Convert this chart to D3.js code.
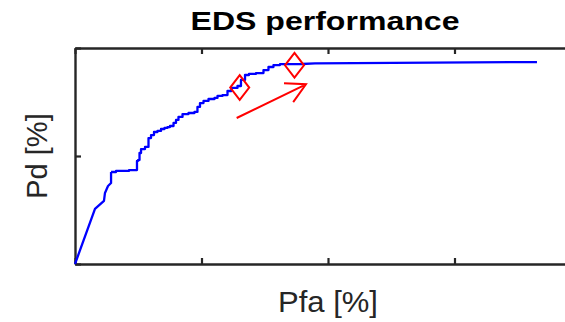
<!DOCTYPE html>
<html><head><meta charset="utf-8">
<script src="https://cdn.jsdelivr.net/npm/d3@7"></script>
<style>body{margin:0;background:#fff;} svg{display:block;}</style>
</head><body><svg id="chart" width="565" height="322"></svg>
<script>
// ROC curve data (Pfa, Pd)
const pfa = [0, 0.158, 0.229, 0.237, 0.261, 0.285, 0.285, 0.364, 0.490, 0.490, 0.506, 0.514, 0.530, 0.577, 0.585,
  0.617, 0.632, 0.672, 0.688, 0.727, 0.735, 0.767, 0.791, 0.806, 0.830, 0.870, 0.925, 0.964, 0.972, 1.004,
  1.028, 1.083, 1.123, 1.130, 1.202, 1.209, 1.265, 1.304, 1.320, 1.368, 1.383, 1.478, 1.502, 1.557, 1.581,
  1.660, 1.794, 1.897, 3.652];
const pd = [0, 0.255, 0.292, 0.329, 0.361, 0.375, 0.426, 0.431, 0.435, 0.477, 0.481, 0.514, 0.532, 0.542, 0.583,
  0.597, 0.611, 0.616, 0.625, 0.630, 0.634, 0.639, 0.653, 0.667, 0.681, 0.694, 0.699, 0.704, 0.727, 0.745,
  0.755, 0.764, 0.769, 0.778, 0.782, 0.801, 0.815, 0.824, 0.852, 0.875, 0.880, 0.884, 0.898, 0.912, 0.921,
  0.925, 0.926, 0.929, 0.935];
const markerPfa = [1.302, 1.735];
const markerPd = [0.817, 0.920];
const arrowFrom = [1.278, 0.676];
const arrowTo = [1.826, 0.832];
const xTicks = [0, 1, 2, 3, 4];
const yTicks = [0, 0.5, 1];
const titleText = "EDS performance";
const xLabelText = "Pfa [%]";
const yLabelText = "Pd [%]";

const svg = d3.select("#chart");
const L = 75, T = 48, W = 506, H = 216;
const x = d3.scaleLinear().domain([0, 4]).range([L, L + W]);
const y = d3.scaleLinear().domain([0, 1]).range([T + H, T]);
const axisColor = "#262626";

svg.append("rect").attr("width", 565).attr("height", 322).attr("fill", "#fff");

function styleAxis(g) {
  g.selectAll("path.domain").attr("stroke", axisColor).attr("stroke-width", 2.4);
  g.selectAll(".tick line").attr("stroke", axisColor).attr("stroke-width", 2.2);
  g.selectAll(".tick text").remove();
}
svg.append("g").attr("transform", `translate(0,${T + H})`)
  .call(d3.axisBottom(x).tickValues(xTicks).tickFormat("").tickSizeInner(-6).tickSizeOuter(0)).call(styleAxis);
svg.append("g").attr("transform", `translate(0,${T})`)
  .call(d3.axisTop(x).tickValues(xTicks).tickFormat("").tickSizeInner(-6).tickSizeOuter(0)).call(styleAxis);
svg.append("g").attr("transform", `translate(${L},0)`)
  .call(d3.axisLeft(y).tickValues(yTicks).tickFormat("").tickSizeInner(-6).tickSizeOuter(0)).call(styleAxis);
svg.append("g").attr("transform", `translate(${L + W},0)`)
  .call(d3.axisRight(y).tickValues(yTicks).tickFormat("").tickSizeInner(-6).tickSizeOuter(0)).call(styleAxis);

// ROC line: linear start, stair-stepped middle, linear tail
const pts = pfa.map((v, i) => [v, pd[i]]);
const segs = [[pts.slice(0, 7), d3.curveLinear], [pts.slice(6, 46), d3.curveStep], [pts.slice(45), d3.curveLinear]];
segs.forEach(([data, curve]) => {
  svg.append("path").datum(data)
    .attr("fill", "none").attr("stroke", "#0000ff").attr("stroke-width", 2.3)
    .attr("stroke-linejoin", "round")
    .attr("d", d3.line().curve(curve).x(d => x(d[0])).y(d => y(d[1])));
});

// diamond markers
const hw = 9.5, hh = 12.3;
svg.selectAll("path.mk").data(markerPfa.map((v, i) => [v, markerPd[i]])).join("path")
  .attr("class", "mk").attr("fill", "none").attr("stroke", "#ff0000").attr("stroke-width", 2)
  .attr("d", d => {
    const cx = x(d[0]), cy = y(d[1]);
    return `M${cx},${cy - hh}L${cx + hw},${cy}L${cx},${cy + hh}L${cx - hw},${cy}Z`;
  });

// arrow
const ax0 = x(arrowFrom[0]), ay0 = y(arrowFrom[1]), ax1 = x(arrowTo[0]), ay1 = y(arrowTo[1]);
const ang = Math.atan2(ay1 - ay0, ax1 - ax0);
const hl = 22, ha = 28.5 * Math.PI / 180;
const w1 = [ax1 - hl * Math.cos(ang - ha), ay1 - hl * Math.sin(ang - ha)];
const w2 = [ax1 - hl * Math.cos(ang + ha), ay1 - hl * Math.sin(ang + ha)];
svg.append("path").attr("fill", "none").attr("stroke", "#ff0000").attr("stroke-width", 2)
  .attr("d", `M${ax0},${ay0}L${ax1},${ay1}M${w1[0]},${w1[1]}L${ax1},${ay1}L${w2[0]},${w2[1]}`);

// texts
svg.append("text").attr("x", 325).attr("y", 29.5).attr("text-anchor", "middle")
  .attr("font-family", "Liberation Sans, Arial, sans-serif").attr("font-weight", "bold")
  .attr("font-size", 25).attr("fill", "#000")
  .attr("textLength", 269).attr("lengthAdjust", "spacingAndGlyphs").text(titleText);
svg.append("text").attr("x", 328).attr("y", 311.5).attr("text-anchor", "middle")
  .attr("font-family", "Liberation Sans, Arial, sans-serif")
  .attr("font-size", 29).attr("fill", axisColor)
  .attr("textLength", 100).attr("lengthAdjust", "spacingAndGlyphs").text(xLabelText);
svg.append("text").attr("transform", `translate(46.5,156) rotate(-90)`).attr("text-anchor", "middle")
  .attr("font-family", "Liberation Sans, Arial, sans-serif")
  .attr("font-size", 29).attr("fill", axisColor).text(yLabelText);
</script></body></html>
